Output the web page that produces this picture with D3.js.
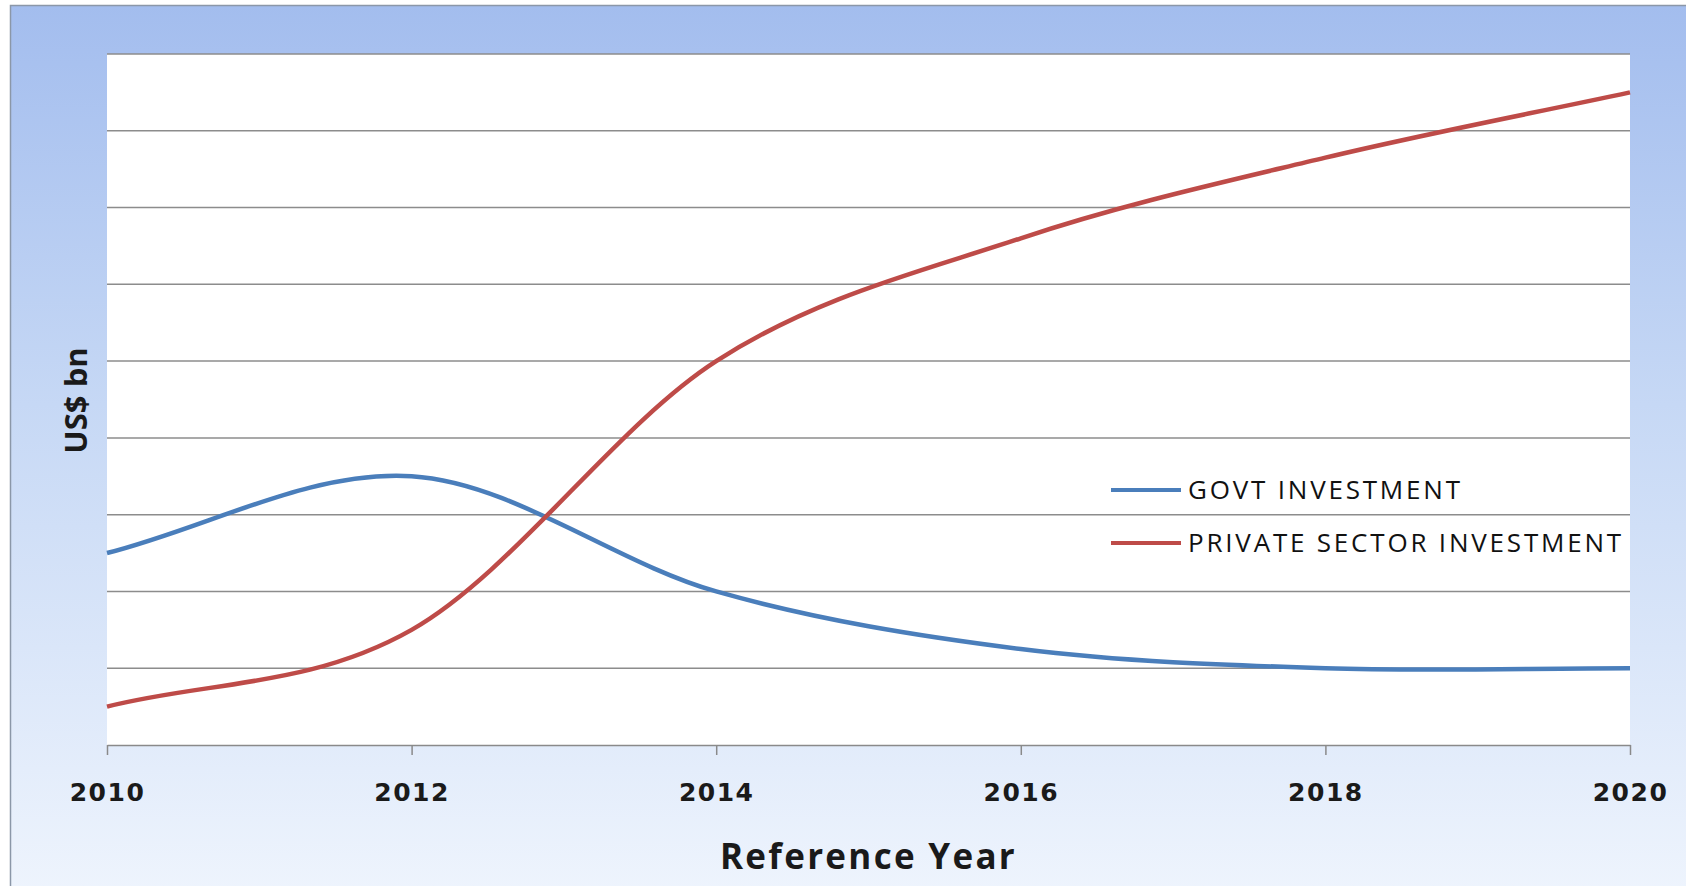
<!DOCTYPE html>
<html>
<head>
<meta charset="utf-8">
<script src="https://cdnjs.cloudflare.com/ajax/libs/d3/7.8.5/d3.min.js"></script>
<style>
  html, body { margin: 0; padding: 0; background: #ffffff; overflow: hidden; }
</style>
</head>
<body>
<div id="chart"></div>
<script>
// chart data
let years = [2010, 2012, 2014, 2016, 2018, 2020];
let govtInvestment = [2.5, 3.5, 2.0, 1.25, 1.0, 1.0];
let privateInvestment = [0.5, 1.5, 5.0, 6.6, 7.65, 8.5];
let seriesNames = ["GOVT INVESTMENT", "PRIVATE SECTOR INVESTMENT"];
let tickYears = [2010, 2012, 2014, 2016, 2018, 2020];
let gridValues = [1, 2, 3, 4, 5, 6, 7, 8, 9];

// set svg width and height
let svgWidth = 1686;
let svgHeight = 886;

// set margin values
let margin = {
  top: 54,
  right: 56,
  bottom: 141,
  left: 107
};

let width = svgWidth - margin.left - margin.right;
let height = svgHeight - margin.top - margin.bottom;

// smoothed curve like the spreadsheet one: catmull-rom inside, 1/3 handles at the ends
function smoothCurve(context) {
  return {
    areaStart() {},
    areaEnd() {},
    lineStart() { this._pts = []; },
    point(x, y) { this._pts.push([+x, +y]); },
    lineEnd() {
      let p = this._pts;
      let n = p.length;
      if (!n) return;
      context.moveTo(p[0][0], p[0][1]);
      for (let i = 0; i < n - 1; i++) {
        let a = p[i], b = p[i + 1];
        let c1 = i === 0
          ? [a[0] + (b[0] - a[0]) / 3, a[1] + (b[1] - a[1]) / 3]
          : [a[0] + (b[0] - p[i - 1][0]) / 6, a[1] + (b[1] - p[i - 1][1]) / 6];
        let c2 = i === n - 2
          ? [b[0] - (b[0] - a[0]) / 3, b[1] - (b[1] - a[1]) / 3]
          : [b[0] - (p[i + 2][0] - a[0]) / 6, b[1] - (p[i + 2][1] - a[1]) / 6];
        context.bezierCurveTo(c1[0], c1[1], c2[0], c2[1], b[0], b[1]);
      }
    }
  };
}

let svg = d3.select("#chart")
  .append("svg")
  .attr("width", svgWidth)
  .attr("height", svgHeight)
  .style("display", "block");

// background gradient of the chart frame
let defs = svg.append("defs");
let grad = defs.append("linearGradient")
  .attr("id", "frameGrad")
  .attr("x1", 0).attr("y1", 0)
  .attr("x2", 0).attr("y2", 1);
grad.append("stop").attr("offset", "0%").attr("stop-color", "#a3bdee");
grad.append("stop").attr("offset", "45%").attr("stop-color", "#c6d8f5");
grad.append("stop").attr("offset", "100%").attr("stop-color", "#eef4fd");

svg.append("rect")
  .attr("x", 10.5)
  .attr("y", 5.5)
  .attr("width", svgWidth)
  .attr("height", svgHeight)
  .attr("fill", "url(#frameGrad)")
  .attr("stroke", "#8b97a8")
  .attr("stroke-width", 1.5);

let chartGroup = svg.append("g")
  .attr("transform", `translate(${margin.left}, ${margin.top})`);

// plot area
chartGroup.append("rect")
  .attr("width", width)
  .attr("height", height)
  .attr("fill", "#ffffff");

// scales
let xScale = d3.scaleLinear()
  .domain([2010, 2020])
  .range([0, width]);

let yScale = d3.scaleLinear()
  .domain([0, 9])
  .range([height, 0]);

// gridlines
chartGroup.selectAll("line.grid")
  .data(gridValues)
  .enter()
  .append("line")
  .attr("class", "grid")
  .attr("x1", 0)
  .attr("x2", width)
  .attr("y1", d => yScale(d))
  .attr("y2", d => yScale(d))
  .attr("stroke", "#8c8c8c")
  .attr("stroke-width", 1.5);

// bottom axis
let bottomAxis = d3.axisBottom(xScale)
  .tickValues(tickYears)
  .tickFormat(d3.format("d"))
  .tickSizeInner(10)
  .tickSizeOuter(0)
  .tickPadding(28);

let xAxisGroup = chartGroup.append("g")
  .attr("transform", `translate(0, ${height})`)
  .call(bottomAxis);

xAxisGroup.select(".domain")
  .attr("stroke", "#8a8a8a")
  .attr("stroke-width", 1.5);

xAxisGroup.selectAll(".tick line")
  .attr("stroke", "#8a8a8a")
  .attr("stroke-width", 1.5);

xAxisGroup.selectAll(".tick text")
  .attr("fill", "#1a1a1a")
  .style("font-family", "'DejaVu Sans', Verdana, sans-serif")
  .style("font-weight", "bold")
  .style("font-size", "25px")
  .style("letter-spacing", "1.5px");

// lines
let lineGen = d3.line()
  .x((d, i) => xScale(years[i]))
  .y(d => yScale(d))
  .curve(smoothCurve);

let series = [
  { name: seriesNames[0], values: govtInvestment, color: "#4a7ebb" },
  { name: seriesNames[1], values: privateInvestment, color: "#be4b48" }
];

chartGroup.selectAll("path.series")
  .data(series)
  .enter()
  .append("path")
  .attr("class", "series")
  .attr("d", d => lineGen(d.values))
  .attr("fill", "none")
  .attr("stroke", d => d.color)
  .attr("stroke-width", 4.5)
  .attr("stroke-linecap", "butt");

// legend
let legend = svg.selectAll("g.legend")
  .data(series)
  .enter()
  .append("g")
  .attr("class", "legend")
  .attr("transform", (d, i) => `translate(1111, ${490 + i * 53})`);

legend.append("line")
  .attr("x1", 0)
  .attr("x2", 70)
  .attr("stroke", d => d.color)
  .attr("stroke-width", 4);

legend.append("text")
  .attr("x", 77)
  .attr("dy", "0.36em")
  .text(d => d.name)
  .attr("fill", "#111111")
  .style("font-family", "'Open Sans', sans-serif")
  .style("font-weight", "500")
  .style("font-size", "26px")
  .style("letter-spacing", "2.8px");

// axis titles
svg.append("text")
  .attr("x", margin.left + width / 2)
  .attr("y", 869)
  .attr("text-anchor", "middle")
  .attr("fill", "#1a1a1a")
  .style("font-family", "'Open Sans', sans-serif")
  .style("font-weight", "bold")
  .style("font-size", "35px")
  .style("letter-spacing", "2.3px")
  .text("Reference Year");

svg.append("text")
  .attr("transform", `translate(87, ${margin.top + height / 2 + 1}) rotate(-90)`)
  .attr("text-anchor", "middle")
  .attr("fill", "#1a1a1a")
  .style("font-family", "'Open Sans', sans-serif")
  .style("font-weight", "bold")
  .style("font-size", "31px")
  .text("US$ bn");
</script>
</body>
</html>
